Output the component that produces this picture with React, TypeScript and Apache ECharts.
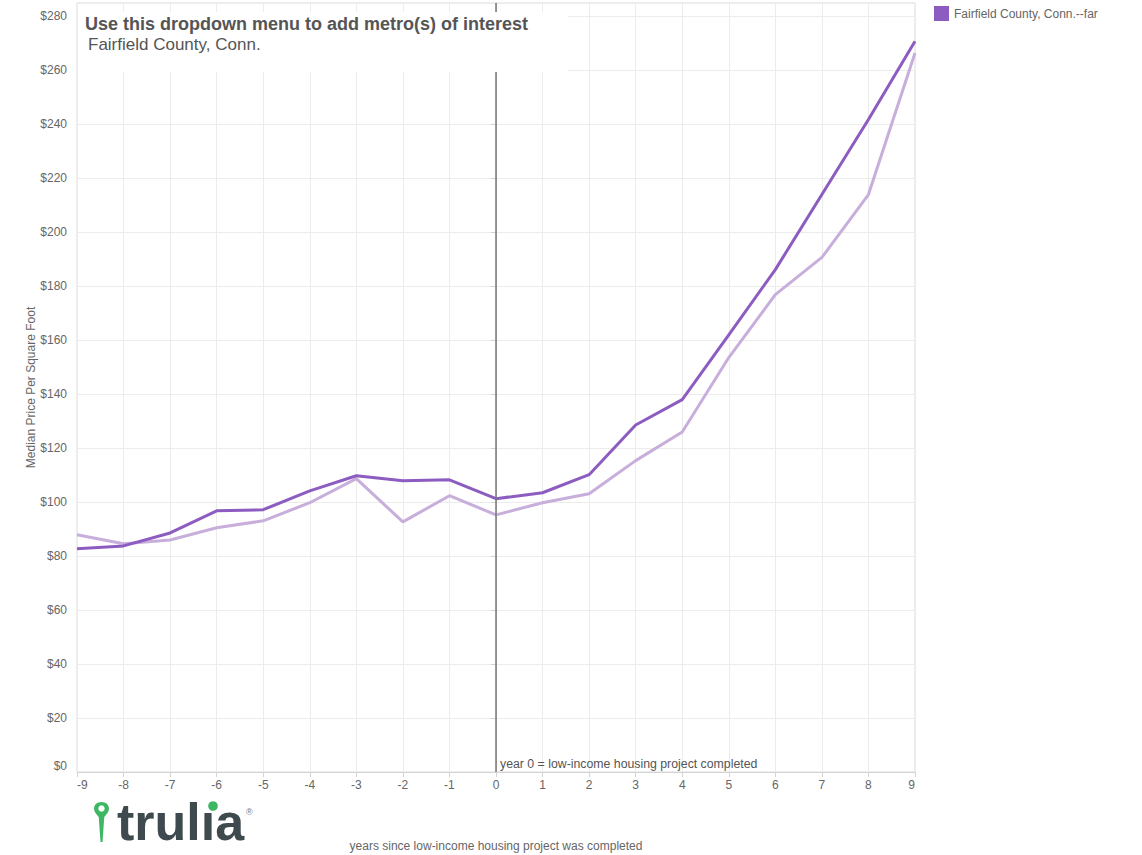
import React, { useEffect, useRef } from "react";
import * as echarts from "echarts";

const years = [-9, -8, -7, -6, -5, -4, -3, -2, -1, 0, 1, 2, 3, 4, 5, 6, 7, 8, 9];
const farValues = [82.7, 83.8, 88.6, 96.8, 97.2, 104.2, 109.8, 107.9, 108.3, 101.3, 103.5, 110.2, 128.6, 138.0, 162.0, 186.2, 214.0, 241.8, 270.8];
const nearValues = [87.9, 84.6, 86.0, 90.5, 93.1, 99.8, 108.7, 92.7, 102.4, 95.3, 99.8, 103.1, 115.4, 126.0, 153.6, 176.9, 190.7, 214.0, 266.5];
const farName = "Fairfield County, Conn.--far";
const nearName = "Fairfield County, Conn.--near";
const titleText = "Use this dropdown menu to add metro(s) of interest";
const subtitleText = "Fairfield County, Conn.";
const annotationText = "year 0 = low-income housing project completed";
const yAxisName = "Median Price Per Square Foot";
const xAxisName = "years since low-income housing project was completed";
const logoText = "trul\u0131a";

const pinPath =
  "M6 0 C2.7 0 0 2.8 0 6.6 C0 10 2 12.5 3.8 15 L5.2 40 L6.8 40 L8.2 15 C10 12.5 12 10 12 6.6 C12 2.8 9.3 0 6 0 Z";

let registered = false;

export default function App() {
  const ref = useRef<HTMLDivElement>(null);
  useEffect(() => {
    if (!registered) {
      echarts.graphic.registerShape("truliaPin", echarts.graphic.extendPath(pinPath, {}));
      registered = true;
    }
    const chart = echarts.init(ref.current!, undefined, { renderer: "svg" });
    const dark = "#8c5cc0";
    const light = "#c7aedb";
    const ff = "Arial, 'Liberation Sans', sans-serif";
    chart.setOption({
      animation: false,
      backgroundColor: "#ffffff",
      textStyle: { fontFamily: ff },
      grid: {
        left: 77,
        right: 227,
        top: 3,
        bottom: 83,
        outerBoundsMode: "none",
        containLabel: false,
        show: true,
        borderColor: "#dddddd",
        borderWidth: 1,
      },
      legend: {
        data: [farName],
        left: 929,
        top: 1,
        icon: "rect",
        itemWidth: 15,
        itemHeight: 15,
        itemGap: 6,
        textStyle: { fontSize: 12, color: "#666666", fontFamily: ff },
      },
      xAxis: {
        type: "value",
        min: -9,
        max: 9,
        interval: 1,
        name: xAxisName,
        nameLocation: "middle",
        nameGap: 68,
        nameMoveOverlap: false,
        nameTextStyle: { fontSize: 12, color: "#666666" },
        axisLine: { show: true, lineStyle: { color: "#d4d4d4" } },
        axisTick: { show: true, length: 5, lineStyle: { color: "#d4d4d4" } },
        axisLabel: {
          fontSize: 12,
          color: "#666666",
          margin: 7,
          alignMinLabel: "left",
          alignMaxLabel: "right",
        },
        splitLine: { show: true, lineStyle: { color: "#ececec" } },
      },
      yAxis: {
        type: "value",
        min: 0,
        max: 285,
        interval: 20,
        name: yAxisName,
        nameLocation: "middle",
        nameGap: 40,
        nameMoveOverlap: false,
        nameRotate: 90,
        nameTextStyle: { fontSize: 12, color: "#666666" },
        axisLine: { show: true, lineStyle: { color: "#d4d4d4" } },
        axisTick: { show: true, length: 5, lineStyle: { color: "#d4d4d4" } },
        axisLabel: {
          fontSize: 12,
          color: "#666666",
          margin: 10,
          showMaxLabel: false,
          verticalAlignMinLabel: "bottom",
          formatter: (v: number) => (v % 20 === 0 && v <= 280 ? "$" + v : ""),
        },
        splitLine: { show: true, lineStyle: { color: "#ececec" } },
      },
      series: [
        {
          name: nearName,
          type: "line",
          data: years.map((y, i) => [y, nearValues[i]]),
          symbol: "none",
          lineStyle: { color: light, width: 3 },
          itemStyle: { color: light },
          z: 3,
        },
        {
          name: farName,
          type: "line",
          data: years.map((y, i) => [y, farValues[i]]),
          symbol: "none",
          lineStyle: { color: dark, width: 3 },
          itemStyle: { color: dark },
          z: 4,
          markLine: {
            silent: true,
            symbol: "none",
            label: { show: false },
            lineStyle: { color: "#777777", width: 1.5, type: "solid" },
            data: [{ xAxis: 0 }],
          },
        },
      ],
      graphic: [
        {
          type: "rect",
          shape: { x: 78, y: 12, width: 490, height: 60 },
          style: { fill: "#ffffff" },
          z: 100,
        },
        {
          type: "text",
          x: 85,
          y: 24,
          z: 101,
          style: {
            text: titleText,
            font: "bold 18px " + ff,
            fill: "#555555",
            verticalAlign: "middle",
          },
        },
        {
          type: "text",
          x: 88,
          y: 44,
          z: 101,
          style: {
            text: subtitleText,
            font: "17px " + ff,
            fill: "#555555",
            verticalAlign: "middle",
          },
        },
        {
          type: "text",
          x: 500,
          y: 764,
          z: 101,
          style: {
            text: annotationText,
            font: "12.3px " + ff,
            fill: "#555555",
            verticalAlign: "middle",
          },
        },
        {
          type: "truliaPin",
          x: 94,
          y: 802,
          scaleX: 1.25,
          scaleY: 1.0,
          style: { fill: "#3db764" },
          z: 101,
        },
        {
          type: "circle",
          shape: { cx: 101.5, cy: 808.6, r: 3.2 },
          style: { fill: "#ffffff" },
          z: 102,
        },
        {
          type: "text",
          x: 117,
          y: 822,
          z: 101,
          style: {
            text: logoText,
            fontSize: 52,
            fontWeight: "bold",
            fontFamily: ff,
            fill: "#3f4a4e",
            verticalAlign: "middle",
          },
        },
        {
          type: "circle",
          shape: { cx: 213, cy: 806, r: 4.8 },
          style: { fill: "#3db764" },
          z: 102,
        },
        {
          type: "text",
          x: 246,
          y: 812,
          z: 101,
          style: {
            text: "\u00ae",
            font: "9px " + ff,
            fill: "#777777",
            verticalAlign: "middle",
          },
        },
      ],
    });
    return () => chart.dispose();
  }, []);
  return (
    <div
      ref={ref}
      style={{ position: "absolute", left: 0, top: 0, width: 1142, height: 855 }}
    />
  );
}
